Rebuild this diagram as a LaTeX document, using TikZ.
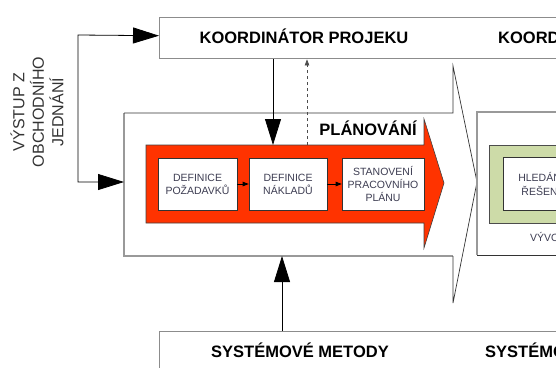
\documentclass[tikz,border=0pt]{standalone}
\usepackage{fontspec}
\setmainfont{Liberation Sans}
\usetikzlibrary{arrows.meta}

\definecolor{txtgray}{rgb}{0.24,0.24,0.32}
\definecolor{planred}{HTML}{FF3300}
\definecolor{devgreen}{HTML}{CDDBA8}

\begin{document}
\begin{tikzpicture}[x=1pt,y=-1pt,
  frame/.style={draw=black!45, line width=1.4pt, anchor=north west, inner sep=0pt},
  lightedge/.style={draw=black!40, line width=1.1pt},
  darkedge/.style={draw=black!80, line width=0.7pt},
  stepbox/.style={draw=black!80, fill=white, line width=0.6pt, inner sep=1pt,
    font=\fontsize{10.5}{13.2}\selectfont, text=txtgray, align=center},
  title/.style={font=\bfseries\fontsize{16.5}{19}\selectfont, text=black, inner sep=0pt},
  small/.style={font=\fontsize{10.5}{13.2}\selectfont, text=txtgray, align=center, inner sep=0pt},
  big/.style={-{Triangle[length=26pt,width=16pt]}, line width=0.8pt},
  bigboth/.style={{Triangle[length=26pt,width=16pt]}-{Triangle[length=26pt,width=16pt]}, line width=0.8pt},
  tiny/.style={-{Triangle[length=6pt,width=4.5pt]}, line width=0.8pt},
  ]
\clip (0,0) rectangle (556,367);
\path[use as bounding box] (0,0) rectangle (556,367);

% coordinator band across the top and methods band at the bottom
\node[frame, minimum width=500pt, minimum height=41pt] (koord) at (159,17) {};
\node[frame, minimum width=500pt, minimum height=60pt] (meth) at (159,331) {};
\node[title, anchor=base] (koordtxt) at (304,43) {KOORDINÁTOR PROJEKU};
\node[title, anchor=base west] (koordtxt2) at (498,43) {KOORDINÁTOR PROJEKU};
\node[title, anchor=base] (methtxt) at (300,357) {SYSTÉMOVÉ METODY};
\node[title, anchor=base west] (methtxt2) at (485,357) {SYSTÉMOVÉ METODY};

% planning phase: large outlined chevron
\draw[lightedge] (453,256) -- (124,256) -- (124,113);
\draw[darkedge] (124,113) -- (453,113) -- (453,66) -- (477,182) -- (453,303) -- (453,256);

% red process arrow
\draw[fill=planred, draw=black!75, line width=0.6pt]
  (146,145) -- (424,145) -- (424,119) -- (444,183) -- (424,248) -- (424,223) -- (146,223) -- cycle;
\node[title, anchor=base] (plantxt) at (368,135) {PLÁNOVÁNÍ};

% steps of planning
\node[stepbox, minimum width=79pt, minimum height=52pt] (req) at (197.5,184) {DEFINICE\\POŽADAVKŮ};
\node[stepbox, minimum width=78pt, minimum height=52pt] (cost) at (288,184) {DEFINICE\\NÁKLADŮ};
\node[stepbox, minimum width=82pt, minimum height=52pt] (plan) at (383,184) {STANOVENÍ\\PRACOVNÍHO\\PLÁNU};
\draw[tiny] (req.east) -- (cost.west);
\draw[tiny] (cost.east) -- (plan.west);

% next phase: development
\draw[draw=black!40, line width=1.1pt] (600,112) -- (477,112) -- (477,255);
\draw[darkedge] (477,255) -- (600,255);
\draw[fill=devgreen, draw=black!70, line width=0.7pt] (489,145) rectangle (600,223);
\draw[fill=white, draw=black!80, line width=0.6pt] (503,157) rectangle (600,210);
\node[small] (search) at (541,184) {HLEDÁNÍ\\ŘEŠENÍ};
\node[small, anchor=west] (dev) at (530,237) {VÝVO};

% connectors
\coordinate (kin) at ([yshift=2.5pt]koord.west);
\coordinate (plin) at (124,182);
\coordinate (dn) at (273,145);
\coordinate (up) at (307,145);
\coordinate (mup) at (282,256);
\draw[bigboth] (kin) -- (78,35) -- (78,182) -- (plin);
\draw[big] (dn |- koord.south) -- (dn);
\draw[tiny, dashed, draw=black!70, line width=0.7pt] (up) -- (up |- koord.south);
\draw[big] (mup |- meth.north) -- (mup);

% input label
\node[font=\fontsize{16}{19.5}\selectfont, text=black!80, align=center, rotate=90, inner sep=0pt]
  (vstup) at (37,112) {VÝSTUP Z\\OBCHODNÍHO\\JEDNÁNÍ};
\end{tikzpicture}
\end{document}
